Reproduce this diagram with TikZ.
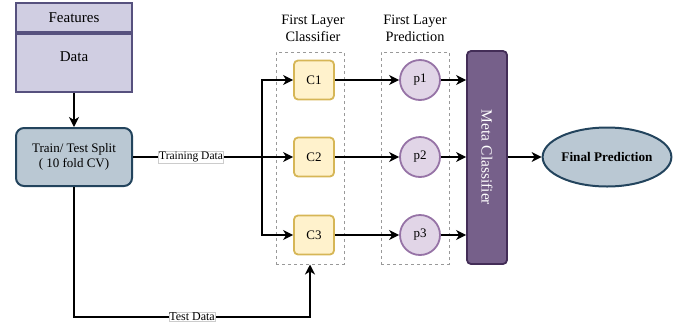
\documentclass[tikz,border=0pt]{standalone}
\usepackage{fontspec}
\setmainfont{Liberation Serif}
\usetikzlibrary{arrows.meta,shapes.geometric,calc}
\definecolor{datafill}{HTML}{D0CEE2}
\definecolor{dataline}{HTML}{56517E}
\definecolor{splitfill}{HTML}{BAC8D3}
\definecolor{splitline}{HTML}{23445D}
\definecolor{clsfill}{HTML}{FFF2CC}
\definecolor{clsline}{HTML}{D6B656}
\definecolor{predfill}{HTML}{E1D5E7}
\definecolor{predline}{HTML}{9673A6}
\definecolor{metafill}{HTML}{76608A}
\definecolor{metaline}{HTML}{432D57}
\tikzset{
  arrow/.style={line width=1.4pt,-{Stealth[length=10pt,width=10pt,inset=3pt]}},
  conn/.style={line width=1.4pt},
  databox/.style={draw=dataline,fill=datafill,line width=1.8pt,minimum width=116pt,
    font=\fontsize{15}{17}\selectfont},
  clsbox/.style={draw=clsline,fill=clsfill,line width=1.8pt,rounded corners=4pt,
    minimum width=40pt,minimum height=39pt,font=\fontsize{13}{15}\selectfont},
  predcircle/.style={circle,draw=predline,fill=predfill,line width=1.8pt,
    minimum size=40pt,inner sep=0pt,font=\fontsize{13}{15}\selectfont},
  groupbox/.style={draw=gray!80,dashed,line width=1pt,minimum width=68pt,minimum height=212pt},
  grouptitle/.style={align=center,font=\fontsize{14.3}{17}\selectfont},
  edgelabel/.style={fill=white,draw=gray!40,line width=0.3pt,inner sep=0.6pt,
    font=\fontsize{11.5}{13}\selectfont}
}
\begin{document}
\begin{tikzpicture}[x=1pt,y=-1pt]
		\useasboundingbox (0,0) rectangle (677,330);
		% input data
		\node[databox,minimum height=29pt] (features) at (74,17.5) {Features};
		\node[databox,minimum height=58pt,text depth=12pt,anchor=north] (data) at (features.south) {Data};
		\node[draw=splitline,fill=splitfill,line width=2pt,rounded corners=8pt,minimum width=116pt,
			minimum height=58pt,align=center,font=\fontsize{13}{15.5}\selectfont] (split) at (74,157) {Train/ Test Split\\( 10 fold CV)};
		\draw[arrow] (data) -- (split);
		% first layer
		\node[groupbox] (clsgroup) at (310,158) {};
		\node[groupbox] (predgroup) at (415,158) {};
		\node[grouptitle] (clstitle) at (313,28) {First Layer\\Classifier};
		\node[grouptitle] (predtitle) at (415,28) {First Layer\\Prediction};
		\node[clsbox] (c1) at (314,80) {C1};
		\node[clsbox] (c2) at (314,157) {C2};
		\node[clsbox] (c3) at (314,235) {C3};
		\node[predcircle] (p1) at (420,80) {p1};
		\node[predcircle] (p2) at (420,157) {p2};
		\node[predcircle] (p3) at (420,235) {p3};
		% meta classifier
		\node[draw=metaline,fill=metafill,line width=1.8pt,rounded corners=4pt,
			minimum width=40pt,minimum height=213pt] (meta) at (487,157.5) {};
		\node[rotate=-90,text=white,font=\fontsize{15.5}{17}\selectfont] (metatext) at (meta) {Meta Classifier};
		\node[ellipse,draw=splitline,fill=splitfill,line width=2pt,minimum width=107pt,
			minimum height=59pt,inner sep=0pt,font=\bfseries\fontsize{13.2}{15}\selectfont] (final) at (607,157) {Final Prediction};
		% training data
		\coordinate (branch) at (262,157);
		\draw[conn] (split.east) -- node[edgelabel,pos=0.45]{Training Data} (branch);
		\draw[arrow] (branch) -- (c2);
		\draw[arrow] (branch) |- (c1);
		\draw[arrow] (branch) |- (c3);
		% test data
		\coordinate (testbend) at (310,317);
		\draw[arrow] (split.south) |- node[edgelabel,pos=0.75,font=\fontsize{12}{13}\selectfont]{Test Data} (testbend) -- (clsgroup.south);
		% predictions
		\draw[arrow] (c1) -- (p1);
		\draw[arrow] (c2) -- (p2);
		\draw[arrow] (c3) -- (p3);
		\draw[arrow] (p1) -- (p1 -| meta.west);
		\draw[arrow] (p2) -- (p2 -| meta.west);
		\draw[arrow] (p3) -- (p3 -| meta.west);
		\draw[arrow] (meta.east |- final) -- (final);
	\end{tikzpicture}
\end{document}
